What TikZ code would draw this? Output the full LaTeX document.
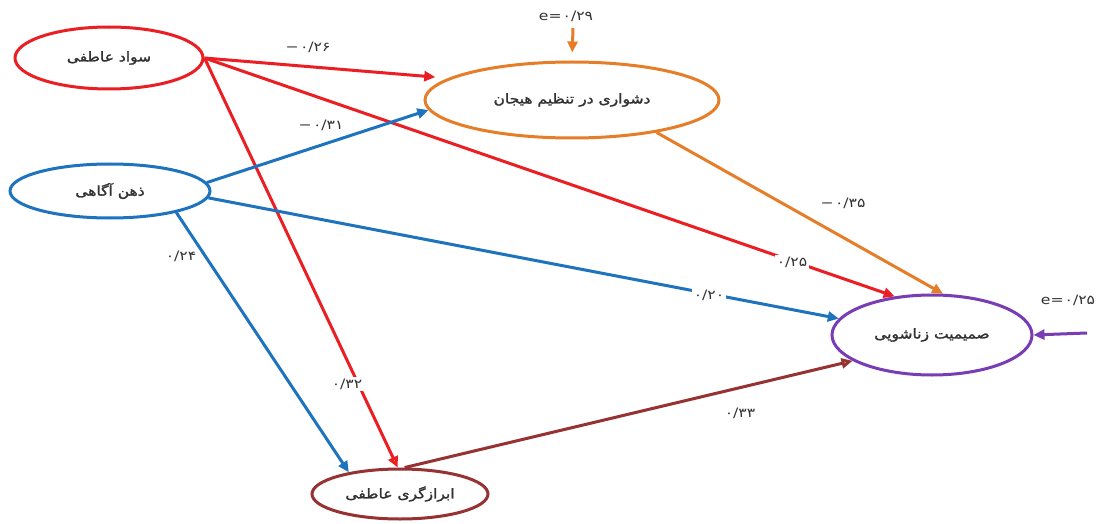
\documentclass[tikz,border=0pt]{standalone}
\usepackage{fontspec}
\usetikzlibrary{arrows.meta,shapes.geometric}
\TeXXeTstate=1
\newfontfamily\arabicfont[Script=Arabic,FakeBold=1.6,FakeStretch=1.15]{DejaVu Sans}
\newfontfamily\numfont[FakeStretch=1.2]{DejaVu Sans}
\definecolor{cred}{RGB}{235,30,35}
\definecolor{cblue}{RGB}{30,115,190}
\definecolor{corange}{RGB}{230,125,40}
\definecolor{cpurple}{RGB}{120,60,180}
\definecolor{cbrown}{RGB}{150,50,50}
\definecolor{cyel}{RGB}{240,170,30}
\definecolor{ctext}{RGB}{50,50,50}
\newcommand{\myneg}{−\hspace{1.5pt}}
\tikzset{
  var/.style={ellipse, draw, line width=3pt, inner sep=0pt, text=ctext,
    font=\arabicfont\fontsize{13.5}{15}\selectfont},
  path/.style={line width=3pt, -{Triangle[length=11pt,width=10pt]}},
  coef/.style={fill=white, inner sep=1.5pt, text=ctext,
    font=\numfont\fontsize{13}{15}\selectfont}
}
\begin{document}
\begin{tikzpicture}[x=1pt,y=-1pt]
\useasboundingbox (0,0) rectangle (1103,524);
\fill[white] (0,0) rectangle (1103,524);

\node[var, draw=cred, minimum width=188pt, minimum height=62pt] (s1) at (109,58) {\beginR سواد عاطفی\endR};
\node[var, draw=cblue, minimum width=200pt, minimum height=54pt] (s2) at (110,191) {\beginR ذهن آگاهی\endR};
\node[var, draw=corange, minimum width=294pt, minimum height=76pt] (s3) at (572,100) {\beginR دشواری در تنظیم هیجان\endR};
\node[var, draw=cpurple, minimum width=200pt, minimum height=80pt] (s4) at (932,335) {\beginR صمیمیت زناشویی\endR};
\node[var, draw=cbrown, minimum width=176pt, minimum height=50pt] (s5) at (400,494) {\beginR ابرازگری عاطفی\endR};

\coordinate (e3) at (573,28);
\coordinate (e4) at (1087,333);

% paths
\draw[path, cred, shorten >=13pt] (s1.east) -- (s3.170);
\draw[path, cred] (s1.east) -- (s4.134);
\draw[path, cred, -{Triangle[length=11pt,width=10pt,fill=cyel]}] (s1.east) -- (s5.95);
\draw[path, cblue] (s2.5) -- (s3.184);
\draw[path, cblue] (s2.-4) -- (s4.170);
\draw[path, cblue] (s2.-18) -- (s5.157);
\draw[path, corange] (s3.-21) -- (s4.75);
\draw[path, cbrown, -{Triangle[length=11pt,width=10pt,fill=cyel]}] (s5.80) -- (s4.198);
\draw[path, corange, shorten >=8pt] (e3) -- (s3.north);
\draw[path, cpurple] (e4) -- (s4.east);

% coefficients
\node[coef] (c1) at (308,47) {\myneg ۰/۲۶};
\node[coef] (c2) at (321,125) {\myneg ۰/۳۱};
\node[coef] (c3) at (181,256) {۰/۲۴};
\node[coef] (c4) at (347,384) {۰/۳۲};
\node[coef] (c5) at (709,295) {۰/۲۰};
\node[coef] (c6) at (792,262) {۰/۲۵};
\node[coef] (c7) at (843,203) {\myneg ۰/۳۵};
\node[coef] (c8) at (740,413) {۰/۳۳};
\node[coef] (c9) at (566,16) {e=\hspace{1pt}۰/۲۹};
\node[coef] (c10) at (1068,300) {e=\hspace{1pt}۰/۲۵};
\end{tikzpicture}
\end{document}
